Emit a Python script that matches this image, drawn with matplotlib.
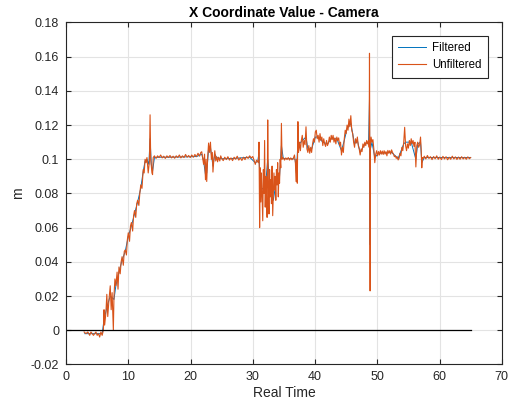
import matplotlib
matplotlib.use("Agg")
import matplotlib.pyplot as plt

plt.rcParams['font.family'] = ['Liberation Sans', 'DejaVu Sans']

# unfiltered camera x coordinate
t_unf = [2.9, 3.2, 3.5, 3.8, 4.0, 4.2, 4.4, 4.6, 4.8, 5.0, 5.2, 5.4, 5.6, 5.8,
         6.0, 6.1, 6.2, 6.4, 6.55, 6.7, 6.9, 7.1, 7.25, 7.4, 7.6, 7.7, 7.85, 8.0,
         8.2, 8.35, 8.5, 8.7, 8.85, 9.0, 9.2, 9.35, 9.5, 9.7, 9.85, 10.0, 10.2,
         10.35, 10.5, 10.7, 10.85, 11.0, 11.2, 11.35, 11.5, 11.7, 11.85, 12.0,
         12.2, 12.4, 12.55, 12.7, 12.85, 13.0, 13.2, 13.4, 13.5, 13.6, 13.8, 13.9,
         14.0, 14.2, 14.45, 14.7, 14.95, 15.2, 15.45, 15.7, 15.95, 16.2, 16.45,
         16.7, 16.95, 17.2, 17.45, 17.7, 17.95, 18.2, 18.45, 18.7, 18.95, 19.2,
         19.45, 19.7, 19.95, 20.2, 20.45, 20.7, 20.95, 21.2, 21.45, 21.65, 21.8,
         21.95, 22.1, 22.25, 22.4, 22.5, 22.6, 22.75, 22.9, 23.05, 23.2, 23.35,
         23.5, 23.6, 23.75, 23.9, 24.05, 24.2, 24.35, 24.5, 24.7, 24.85,
         25.0, 25.25, 25.5, 25.75, 26.0, 26.25, 26.5, 26.75, 27.0, 27.25, 27.5,
         27.75, 28.0, 28.25, 28.5, 28.75, 29.0, 29.25, 29.5, 29.75, 30.0, 30.2,
         30.4, 30.6, 30.8,
         30.9, 31.0, 31.1, 31.2, 31.3, 31.4, 31.5, 31.6, 31.7, 31.8, 31.9, 32.0,
         32.1, 32.2, 32.3, 32.4, 32.5, 32.6, 32.7, 32.8, 32.9, 33.0, 33.1, 33.2,
         33.3, 33.4, 33.5, 33.6, 33.7, 33.8, 33.9, 34.0, 34.1, 34.2, 34.3, 34.4,
         34.5, 34.6, 34.7, 34.8,
         34.95, 35.1, 35.3, 35.5, 35.7, 35.9, 36.1, 36.3, 36.5, 36.7, 36.85,
         36.95, 37.05, 37.15, 37.25, 37.35, 37.5, 37.65, 37.8, 37.95, 38.1, 38.25,
         38.4, 38.55, 38.7, 38.85, 39.0, 39.15, 39.3, 39.45, 39.6, 39.75, 39.9,
         40.05, 40.2, 40.35, 40.5, 40.65, 40.8, 40.95, 41.1, 41.25, 41.4, 41.55,
         41.7, 41.85, 42.0, 42.15, 42.3, 42.45, 42.6, 42.75, 42.9, 43.05, 43.2,
         43.35, 43.5, 43.65, 43.8, 43.95, 44.1, 44.25, 44.4, 44.55, 44.7, 44.85,
         45.0, 45.15, 45.3, 45.45, 45.6, 45.75, 45.9, 46.05, 46.2, 46.35, 46.5,
         46.65, 46.8, 46.95, 47.1, 47.25, 47.4, 47.55, 47.7, 47.85, 48.0, 48.15,
         48.3, 48.45, 48.6, 48.7, 48.75, 48.8, 48.85, 48.9, 49.0, 49.15, 49.3,
         49.45, 49.6, 49.75, 49.9, 50.05, 50.2, 50.35, 50.5, 50.65, 50.8, 50.95,
         51.1, 51.25, 51.4, 51.55, 51.7, 51.85, 52.0, 52.15, 52.3, 52.45, 52.6,
         52.75, 52.9, 53.05, 53.2, 53.35, 53.5, 53.65, 53.8, 53.95, 54.1, 54.25,
         54.4, 54.55, 54.7, 54.85, 55.0, 55.15, 55.3, 55.45, 55.6, 55.75, 55.9,
         56.05, 56.2, 56.35, 56.5, 56.65, 56.8, 56.95, 57.05, 57.15, 57.25, 57.4,
         57.55, 57.8, 58.05, 58.3, 58.55, 58.8, 59.05, 59.3, 59.55, 59.8, 60.05,
         60.3, 60.55, 60.8, 61.05, 61.3, 61.55, 61.8, 62.05, 62.3, 62.55, 62.8,
         63.05, 63.3, 63.55, 63.8, 64.05, 64.3, 64.55, 64.8, 65.0]
x_unf = [-0.001, -0.002, -0.001, -0.003, -0.001, -0.002, -0.003, -0.002, -0.001,
         -0.003, -0.002, -0.004, -0.001, -0.003,
         0.000, 0.012, 0.003, 0.010, 0.021, 0.008, 0.018, 0.026, 0.012, 0.022,
         0.000, 0.020, 0.030, 0.026, 0.034, 0.024, 0.037, 0.033, 0.040, 0.043,
         0.038, 0.046, 0.047, 0.044, 0.053, 0.057, 0.052, 0.061, 0.063, 0.058,
         0.067, 0.070, 0.066, 0.074, 0.076, 0.073, 0.080, 0.085, 0.083, 0.094,
         0.092, 0.100, 0.098, 0.101, 0.092, 0.099, 0.126, 0.100, 0.092, 0.091,
         0.101, 0.102, 0.1005, 0.102, 0.101, 0.1025, 0.1008, 0.1018, 0.1005,
         0.102, 0.101, 0.1022, 0.1008, 0.1018, 0.1006, 0.102, 0.101, 0.1025,
         0.1008, 0.102, 0.101, 0.1028, 0.1012, 0.1022, 0.101, 0.1025, 0.1012,
         0.1028, 0.1015, 0.1035, 0.1018, 0.104, 0.1044,
         0.1005, 0.097, 0.103, 0.088, 0.100, 0.087, 0.101, 0.1095, 0.104, 0.110,
         0.100, 0.104, 0.0925, 0.100, 0.105, 0.099, 0.1015, 0.0985, 0.1012,
         0.099, 0.102,
         0.1005, 0.0992, 0.1012, 0.0998, 0.1015, 0.0995, 0.1008, 0.0992, 0.1012,
         0.100, 0.1018, 0.0995, 0.1008, 0.0993, 0.1012, 0.0998, 0.1015, 0.1005,
         0.102, 0.1008, 0.1016, 0.0995, 0.097, 0.0995, 0.0985,
         0.098, 0.110, 0.060, 0.095, 0.075, 0.092, 0.078, 0.064, 0.094, 0.080,
         0.111, 0.072, 0.090, 0.082, 0.066, 0.123, 0.085, 0.068, 0.094, 0.078,
         0.088, 0.074, 0.096, 0.067, 0.080, 0.092, 0.082, 0.090, 0.076, 0.094,
         0.085, 0.098, 0.078, 0.092, 0.086, 0.100, 0.095, 0.121, 0.100, 0.101,
         0.1005, 0.0995, 0.1008, 0.0998, 0.101, 0.0995, 0.1008, 0.0997, 0.1005,
         0.1025, 0.098, 0.087, 0.100, 0.086, 0.122, 0.104, 0.110, 0.105, 0.111,
         0.114, 0.107, 0.111, 0.1085, 0.119, 0.106, 0.104, 0.108, 0.1035, 0.107,
         0.104, 0.109, 0.112, 0.110, 0.116, 0.117, 0.112, 0.114, 0.110, 0.115,
         0.111, 0.113, 0.108, 0.112, 0.109, 0.1075, 0.111, 0.108, 0.1095, 0.113,
         0.110, 0.114, 0.1115, 0.114, 0.110, 0.1125, 0.109, 0.113, 0.111,
         0.1125, 0.108, 0.110, 0.1025, 0.107, 0.104, 0.112, 0.117, 0.115, 0.120,
         0.117, 0.1235, 0.119, 0.1255, 0.117, 0.115, 0.110, 0.107, 0.112,
         0.1095, 0.113, 0.108, 0.106, 0.1025, 0.106, 0.1045, 0.109, 0.107,
         0.110, 0.108, 0.111, 0.109, 0.111, 0.107, 0.162, 0.105, 0.023, 0.108,
         0.113, 0.110, 0.1115, 0.106, 0.098, 0.103, 0.105, 0.102, 0.1045,
         0.1025, 0.105, 0.103, 0.1048, 0.1028, 0.105, 0.103, 0.1045, 0.102,
         0.1052, 0.1035, 0.105, 0.103, 0.1055, 0.104, 0.103, 0.1015, 0.102,
         0.1005, 0.1015, 0.0996, 0.1005, 0.1035, 0.102, 0.107, 0.105, 0.110,
         0.1187, 0.108, 0.105, 0.109, 0.1065, 0.111, 0.108, 0.112, 0.109, 0.111,
         0.1075, 0.110, 0.0955, 0.108, 0.110, 0.107, 0.1085, 0.113, 0.106,
         0.095, 0.101, 0.1005,
         0.1018, 0.1002, 0.1022, 0.1005, 0.1015, 0.0998, 0.1016, 0.1003, 0.102,
         0.100, 0.1013, 0.0998, 0.1017, 0.1002, 0.1015, 0.0997, 0.1012, 0.100,
         0.1018, 0.1002, 0.1014, 0.0999, 0.1013, 0.100, 0.1015, 0.1002, 0.1012,
         0.100, 0.1014, 0.1003, 0.101]

# filtered series (mostly hidden under the unfiltered one)
t_filt = [3.0, 4.0, 5.0, 5.8, 6.1, 6.6, 7.1, 7.7, 8.0, 8.5, 9.0, 9.5, 10.0,
          10.5, 11.0, 11.5, 12.0, 12.4, 12.7, 13.0, 13.3, 13.5, 13.7, 13.9,
          14.2, 15.0, 17.0, 19.0, 21.0, 21.8, 22.1, 22.4, 22.6, 22.9, 23.2,
          23.6, 23.9, 24.2, 25.0, 27.0, 29.5, 30.4, 30.8, 31.0, 31.2, 31.5,
          32.0, 32.4, 32.8, 33.3, 33.8, 34.3, 34.6, 34.9, 36.5, 36.8, 37.0,
          37.25, 37.5, 37.95, 38.55, 38.85, 39.45, 40.05, 40.5, 41.25, 42.0,
          42.6, 43.5, 44.25, 44.7, 45.15, 45.75, 46.35, 46.8, 47.25, 48.0,
          48.6, 48.75, 48.85, 48.9, 49.15, 49.6, 50.2, 52.3, 53.35, 54.25,
          54.55, 55.45, 56.2, 56.5, 56.95, 57.15, 57.55, 65.0]
x_filt = [-0.002, -0.002, -0.002, -0.002, 0.006, 0.014, 0.020, 0.018, 0.026,
          0.034, 0.041, 0.046, 0.055, 0.061, 0.068, 0.075, 0.083, 0.093, 0.099,
          0.100, 0.097, 0.112, 0.097, 0.093, 0.101, 0.1012, 0.1012, 0.1014,
          0.1016, 0.103, 0.099, 0.091, 0.092, 0.106, 0.107, 0.096, 0.103, 0.101,
          0.1003, 0.1005, 0.1012, 0.098, 0.0988, 0.104, 0.080, 0.083, 0.082,
          0.100, 0.083, 0.076, 0.088, 0.090, 0.108, 0.1005, 0.1003, 0.100,
          0.092, 0.110, 0.109, 0.111, 0.113, 0.106, 0.106, 0.113, 0.113, 0.110,
          0.109, 0.112, 0.112, 0.105, 0.111, 0.118, 0.121, 0.109, 0.111, 0.104,
          0.109, 0.110, 0.135, 0.050, 0.106, 0.110, 0.101, 0.1035, 0.104,
          0.1005, 0.109, 0.110, 0.110, 0.100, 0.109, 0.110, 0.098, 0.101, 0.101]

# zero reference line
t_zero = [0, 65]
x_zero = [0, 0]

x_ticks = [0, 10, 20, 30, 40, 50, 60, 70]
y_ticks = [-0.02, 0, 0.02, 0.04, 0.06, 0.08, 0.1, 0.12, 0.14, 0.16, 0.18]
y_tick_labels = ['-0.02', '0', '0.02', '0.04', '0.06', '0.08', '0.1', '0.12',
                 '0.14', '0.16', '0.18']

fig = plt.figure(figsize=(5.12, 4.09), dpi=100)
ax = fig.add_axes([0.129, 0.109, 0.851, 0.836])

ax.plot(t_filt, x_filt, color='#0072BD', lw=0.7, label='Filtered')
ax.plot(t_unf, x_unf, color='#D95319', lw=0.8, label='Unfiltered')
ax.plot(t_zero, x_zero, color='black', lw=0.9)

ax.set_xlim(0, 70)
ax.set_ylim(-0.02, 0.18)
ax.set_xticks(x_ticks)
ax.set_yticks(y_ticks)
ax.set_yticklabels(y_tick_labels)
ax.grid(True, color='#E3E3E3', lw=0.8)
ax.set_axisbelow(True)
ax.tick_params(direction='in', top=True, right=True, length=3.5, width=0.8,
               colors='#262626', labelsize=9, pad=5)
for s in ax.spines.values():
    s.set_color('#262626')
    s.set_linewidth(0.8)

ax.set_title('X Coordinate Value - Camera', fontsize=10, fontweight='bold',
             color='black', pad=4)
ax.set_xlabel('Real Time', fontsize=10, color='#262626', labelpad=2)
ax.set_ylabel('m', fontsize=10, color='#262626', labelpad=4)

leg = ax.legend(loc='upper right', bbox_to_anchor=(0.968, 0.961),
                borderaxespad=0, fontsize=8.3, fancybox=False, framealpha=1,
                edgecolor='#262626', handlelength=2.4, handletextpad=0.55,
                borderpad=0.55, labelspacing=0.45)
leg.get_frame().set_linewidth(0.8)

fig.savefig('out.png', dpi=100)
